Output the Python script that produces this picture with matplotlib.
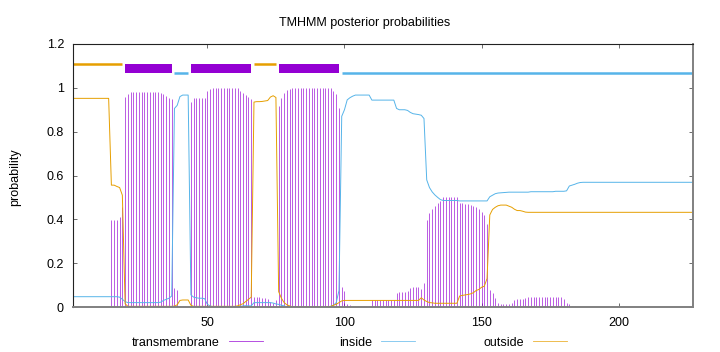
#!/usr/bin/env python3
import numpy as np
import matplotlib

matplotlib.use("Agg")
import matplotlib.pyplot as plt

# posterior probabilities per residue 1..227
tm_prob = [
    0, 0, 0, 0, 0, 0, 0, 0, 0, 0,  # 1-10
    0, 0, 0, 0, 0.397, 0.397, 0.397, 0.41, 0.458, 0.96,  # 11-20
    0.972, 0.98, 0.98, 0.98, 0.98, 0.98, 0.98, 0.98, 0.98, 0.98,  # 21-30
    0.98, 0.98, 0.977, 0.97, 0.962, 0.955, 0.948, 0.088, 0.078, 0.005,  # 31-40
    0.005, 0.005, 0.005, 0.937, 0.952, 0.952, 0.952, 0.952, 0.952, 0.985,  # 41-50
    0.993, 0.999, 0.999, 0.999, 0.999, 0.999, 0.999, 0.999, 0.999, 0.999,  # 51-60
    0.999, 0.985, 0.978, 0.968, 0.96, 0.95, 0.047, 0.045, 0.045, 0.043,  # 61-70
    0.04, 0.037, 0.025, 0.018, 0.03, 0.917, 0.952, 0.975, 0.988, 0.995,  # 71-80
    0.999, 0.999, 0.999, 0.999, 0.999, 0.999, 0.999, 0.999, 0.999, 0.999,  # 81-90
    0.999, 0.999, 0.999, 0.999, 0.999, 0.985, 0.97, 0.906, 0.093, 0.073,  # 91-100
    0.012, 0.01, 0.003, 0.003, 0.003, 0.003, 0.003, 0.003, 0.003, 0.03,  # 101-110
    0.03, 0.03, 0.03, 0.03, 0.03, 0.03, 0.03, 0.03, 0.065, 0.07,  # 111-120
    0.07, 0.07, 0.073, 0.085, 0.09, 0.093, 0.093, 0.08, 0.108, 0.395,  # 121-130
    0.43, 0.447, 0.46, 0.475, 0.485, 0.502, 0.502, 0.502, 0.502, 0.502,  # 131-140
    0.502, 0.473, 0.473, 0.47, 0.468, 0.465, 0.46, 0.455, 0.445, 0.435,  # 141-150
    0.42, 0.38, 0.078, 0.062, 0.042, 0.02, 0.015, 0.015, 0.015, 0.015,  # 151-160
    0.017, 0.03, 0.035, 0.035, 0.037, 0.04, 0.044, 0.044, 0.044, 0.044,  # 161-170
    0.044, 0.044, 0.044, 0.044, 0.044, 0.044, 0.044, 0.044, 0.044, 0.037,  # 171-180
    0.017, 0.014, 0.006, 0.004, 0.002, 0.001, 0, 0, 0, 0,  # 181-190
    0, 0, 0, 0, 0, 0, 0, 0, 0, 0,  # 191-200
    0, 0, 0, 0, 0, 0, 0, 0, 0, 0,  # 201-210
    0, 0, 0, 0, 0, 0, 0, 0, 0, 0,  # 211-220
    0, 0, 0, 0, 0, 0, 0,  # 221-227
]

inside_prob = [
    0.047, 0.047, 0.047, 0.047, 0.047, 0.047, 0.047, 0.047, 0.047, 0.047,  # 1-10
    0.047, 0.047, 0.047, 0.047, 0.047, 0.047, 0.047, 0.045, 0.035, 0.025,  # 11-20
    0.02, 0.02, 0.02, 0.02, 0.02, 0.02, 0.02, 0.02, 0.02, 0.02,  # 21-30
    0.02, 0.02, 0.022, 0.03, 0.035, 0.04, 0.05, 0.906, 0.92, 0.96,  # 31-40
    0.967, 0.967, 0.967, 0.055, 0.045, 0.042, 0.04, 0.04, 0.038, 0.012,  # 41-50
    0.005, 0.001, 0.001, 0.001, 0.001, 0.001, 0.001, 0.001, 0.001, 0.001,  # 51-60
    0.001, 0.003, 0.005, 0.006, 0.005, 0.005, 0.02, 0.02, 0.02, 0.02,  # 61-70
    0.02, 0.02, 0.02, 0.018, 0.014, 0.012, 0.008, 0.005, 0.001, 0.001,  # 71-80
    0.001, 0.001, 0.001, 0.001, 0.001, 0.001, 0.001, 0.001, 0.001, 0.001,  # 81-90
    0.001, 0.001, 0.001, 0.001, 0.003, 0.008, 0.02, 0.075, 0.87, 0.9,  # 91-100
    0.945, 0.955, 0.962, 0.967, 0.967, 0.967, 0.967, 0.967, 0.967, 0.944,  # 101-110
    0.944, 0.944, 0.944, 0.944, 0.944, 0.944, 0.944, 0.944, 0.906, 0.9,  # 111-120
    0.9, 0.9, 0.897, 0.888, 0.882, 0.88, 0.878, 0.875, 0.86, 0.58,  # 121-130
    0.545, 0.525, 0.511, 0.5, 0.49, 0.486, 0.486, 0.486, 0.486, 0.486,  # 131-140
    0.486, 0.484, 0.484, 0.484, 0.484, 0.484, 0.484, 0.484, 0.484, 0.484,  # 141-150
    0.484, 0.484, 0.503, 0.51, 0.517, 0.52, 0.521, 0.522, 0.523, 0.524,  # 151-160
    0.524, 0.524, 0.524, 0.524, 0.524, 0.524, 0.524, 0.526, 0.526, 0.526,  # 161-170
    0.526, 0.526, 0.526, 0.526, 0.526, 0.526, 0.528, 0.528, 0.528, 0.528,  # 171-180
    0.53, 0.552, 0.556, 0.56, 0.565, 0.568, 0.569, 0.569, 0.569, 0.569,  # 181-190
    0.569, 0.569, 0.569, 0.569, 0.569, 0.569, 0.569, 0.569, 0.569, 0.569,  # 191-200
    0.569, 0.569, 0.569, 0.569, 0.569, 0.569, 0.569, 0.569, 0.569, 0.569,  # 201-210
    0.569, 0.569, 0.569, 0.569, 0.569, 0.569, 0.569, 0.569, 0.569, 0.569,  # 211-220
    0.569, 0.569, 0.569, 0.569, 0.569, 0.569, 0.569,  # 221-227
]

outside_prob = [
    0.952, 0.952, 0.952, 0.952, 0.952, 0.952, 0.952, 0.952, 0.952, 0.952,  # 1-10
    0.952, 0.952, 0.952, 0.952, 0.556, 0.556, 0.55, 0.545, 0.51, 0.015,  # 11-20
    0.003, 0.003, 0.003, 0.003, 0.003, 0.003, 0.003, 0.003, 0.003, 0.003,  # 21-30
    0.003, 0.003, 0.003, 0.003, 0.003, 0.003, 0.003, 0.004, 0.01, 0.03,  # 31-40
    0.032, 0.032, 0.032, 0.008, 0.003, 0.003, 0.003, 0.003, 0.003, 0.003,  # 41-50
    0.003, 0.003, 0.003, 0.003, 0.003, 0.003, 0.003, 0.003, 0.003, 0.003,  # 51-60
    0.005, 0.01, 0.015, 0.025, 0.035, 0.045, 0.935, 0.937, 0.937, 0.938,  # 61-70
    0.94, 0.942, 0.958, 0.964, 0.956, 0.07, 0.04, 0.02, 0.01, 0.005,  # 71-80
    0.001, 0.001, 0.001, 0.001, 0.001, 0.001, 0.001, 0.001, 0.001, 0.001,  # 81-90
    0.001, 0.001, 0.001, 0.001, 0.003, 0.008, 0.012, 0.02, 0.028, 0.03,  # 91-100
    0.03, 0.03, 0.03, 0.03, 0.03, 0.03, 0.03, 0.03, 0.03, 0.03,  # 101-110
    0.03, 0.03, 0.03, 0.03, 0.03, 0.03, 0.03, 0.03, 0.03, 0.03,  # 111-120
    0.03, 0.03, 0.03, 0.03, 0.03, 0.03, 0.03, 0.042, 0.032, 0.025,  # 121-130
    0.02, 0.019, 0.017, 0.017, 0.017, 0.017, 0.017, 0.017, 0.017, 0.017,  # 131-140
    0.017, 0.05, 0.053, 0.055, 0.057, 0.06, 0.065, 0.075, 0.08, 0.09,  # 141-150
    0.095, 0.13, 0.42, 0.445, 0.455, 0.462, 0.465, 0.465, 0.465, 0.46,  # 151-160
    0.455, 0.446, 0.44, 0.44, 0.437, 0.433, 0.432, 0.432, 0.432, 0.432,  # 161-170
    0.432, 0.432, 0.432, 0.432, 0.432, 0.432, 0.432, 0.432, 0.432, 0.432,  # 171-180
    0.432, 0.432, 0.432, 0.432, 0.432, 0.432, 0.432, 0.432, 0.432, 0.432,  # 181-190
    0.432, 0.432, 0.432, 0.432, 0.432, 0.432, 0.432, 0.432, 0.432, 0.432,  # 191-200
    0.432, 0.432, 0.432, 0.432, 0.432, 0.432, 0.432, 0.432, 0.432, 0.432,  # 201-210
    0.432, 0.432, 0.432, 0.432, 0.432, 0.432, 0.432, 0.432, 0.432, 0.432,  # 211-220
    0.432, 0.432, 0.432, 0.432, 0.432, 0.432, 0.432,  # 221-227
]

# predicted topology drawn as the bar above the curves
seg_start = [1, 20, 38, 44, 67, 76, 99]
seg_end = [19, 37, 43, 66, 75, 98, 227]
seg_type = ["outside", "TMhelix", "inside", "TMhelix", "outside", "TMhelix", "inside"]

x_ticks = [50, 100, 150, 200]
y_ticks = [0, 0.2, 0.4, 0.6, 0.8, 1.0, 1.2]
y_tick_labels = ["0", "0.2", "0.4", "0.6", "0.8", "1", "1.2"]
legend_labels = ["transmembrane", "inside", "outside"]

PURPLE = "#9400D3"
BLUE = "#56B4E9"
ORANGE = "#E69F00"
W, H = 720, 352


def fig_xy(x, y):
    # pixel position -> figure fraction
    return x / W, 1 - y / H


def plot_tmhmm(path="out.png"):
    plt.rcParams["font.family"] = ["Liberation Sans", "DejaVu Sans"]
    plt.rcParams["font.size"] = 9

    fig = plt.figure(figsize=(W / 100, H / 100), dpi=100)
    x0, y0 = fig_xy(73, 307)
    x1, y1 = fig_xy(692.7, 44)
    ax = fig.add_axes([x0, y0, x1 - x0, y1 - y0])

    ax.vlines(np.arange(1, len(tm_prob) + 1), 0, tm_prob, colors=PURPLE, lw=0.6, alpha=0.75)
    ax.plot(np.arange(1, len(inside_prob) + 1), inside_prob, color=BLUE, lw=0.7)
    ax.plot(np.arange(1, len(outside_prob) + 1), outside_prob, color=ORANGE, lw=0.7)

    for s, e, kind in zip(seg_start, seg_end, seg_type):
        if kind == "TMhelix":
            ax.broken_barh([(s, e - s)], (1.068, 0.043), facecolors=PURPLE)
        elif kind == "inside":
            ax.hlines(1.068, s, e, colors=BLUE, lw=1.8)
        else:
            ax.hlines(1.11, s, e, colors=ORANGE, lw=1.8)

    ax.set_xlim(1, 227)
    ax.set_ylim(0, 1.2)
    ax.set_xticks(x_ticks)
    ax.set_yticks(y_ticks)
    ax.set_yticklabels(y_tick_labels)
    ax.tick_params(direction="in", length=3, width=0.6, color="#555555",
                   top=True, right=True, labelsize=9)
    ax.tick_params(axis="y", pad=6.5)
    ax.tick_params(axis="x", pad=7)

    for side in ("left", "top"):
        ax.spines[side].set_color("#222222")
        ax.spines[side].set_linewidth(0.8)
    for side in ("bottom", "right"):
        ax.spines[side].set_color("#808080")
        ax.spines[side].set_linewidth(1.4)

    tx, ty = fig_xy(365, 25.7)
    fig.text(tx, ty, "TMHMM posterior probabilities", ha="center", va="baseline", fontsize=9)
    lx, ly = fig_xy(15, 177)
    fig.text(lx, ly, "probability", rotation=90, ha="center", va="center", fontsize=9)

    # key below the plot, gnuplot style: label then sample line
    key_text_right = [220, 372, 524]
    key_colors = [PURPLE, BLUE, ORANGE]
    for label, color, xr in zip(legend_labels, key_colors, key_text_right):
        kx, ky = fig_xy(xr, 346.5)
        fig.text(kx, ky, label, ha="right", va="baseline", fontsize=9)
        ax0, ay = fig_xy(xr + 9, 341)
        ax1, _ = fig_xy(xr + 43, 341)
        fig.add_artist(plt.Line2D([ax0, ax1], [ay, ay], color=color, lw=0.6, alpha=0.8))

    fig.savefig(path, dpi=100)
    plt.close(fig)


if __name__ == "__main__":
    plot_tmhmm("out.png")
